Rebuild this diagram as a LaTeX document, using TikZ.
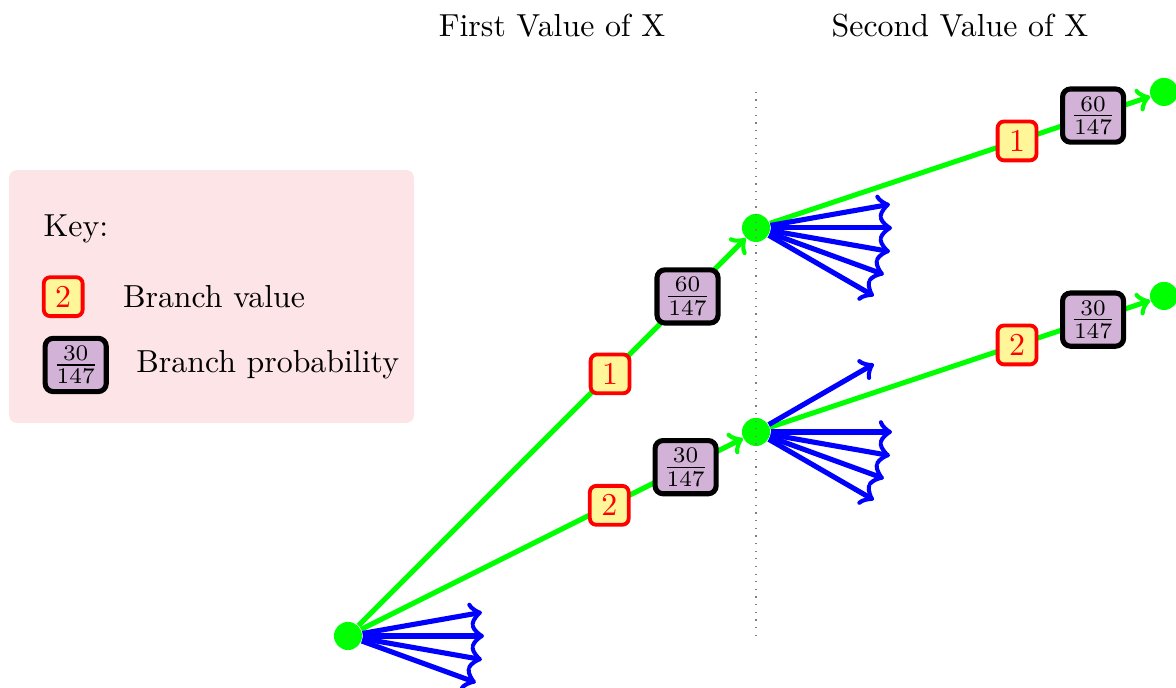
\documentclass[tikz,border=0pt]{standalone}
\usepackage{tikz}
\usetikzlibrary{positioning}

\definecolor{valfill}{RGB}{255,246,154}
\definecolor{probfill}{RGB}{210,178,214}
\definecolor{keyfill}{RGB}{253,229,231}

\begin{document}
\begin{tikzpicture}[
    dot/.style={circle, fill=green, inner sep=0pt, minimum size=0.31cm},
    branch/.style={->, green, ultra thick},
    other/.style={->, blue, ultra thick},
    valbox/.style={draw=red, very thick, rounded corners=2pt, fill=valfill, text=red, minimum size=12.2pt, inner sep=1pt},
    probbox/.style={draw=black, ultra thick, rounded corners=2.5pt, fill=probfill, text=black, inner sep=2.4pt},
  ]

  \useasboundingbox (-3.838,-0.5735) rectangle (9.132,7.014);

  % key
  \node (keybox) [fill=keyfill, rounded corners=2.5pt, minimum width=4.467cm, minimum height=2.79cm] at (-1.505,3.744) {};
  \node (keytitle) at (-3.0,4.49) {Key:};
  \node (keyval) [valbox] at (-3.141,3.742) {2};
  \node (keyvaltxt) [right=0.3cm of keyval] {Branch value};
  \node (keyprob) [probbox] at (-3.003,2.989) {$\frac{30}{147}$};
  \node (keyprobtxt) [right=0.18cm of keyprob] {Branch probability};

  % tree
  \node (root) [dot] at (0,0) {};
  \node (A) [dot, on grid, above right=4.5cm and 4.5cm of root] {};
  \node (B) [dot, on grid, above right=2.25cm and 4.5cm of root] {};
  \node (C) [dot, on grid, above right=1.5cm and 4.5cm of A] {};
  \node (D) [dot, on grid, above right=1.5cm and 4.5cm of B] {};

  \node (first) at (2.25,6.73) {First Value of X};
  \node (second) at (6.75,6.73) {Second Value of X};

  \draw [gray, dotted] (A |- root) -- (A |- C);

  \draw [branch] (root) -- node [valbox, pos=.65] (v1) {1} node [probbox, pos=.85] (p1) {$\frac{60}{147}$} (A);
  \draw [branch] (root) -- node [valbox, pos=.65] (v2) {2} node [probbox, pos=.85] (p2) {$\frac{30}{147}$} (B);
  \draw [branch] (A) -- node [valbox, pos=.65] (v3) {1} node [probbox, pos=.85] (p3) {$\frac{60}{147}$} (C);
  \draw [branch] (B) -- node [valbox, pos=.65] (v4) {2} node [probbox, pos=.85] (p4) {$\frac{30}{147}$} (D);

  % other values
  \foreach \a [count=\i] in {10,0,-10,-20} {
    \path (root) ++(\a:1.5cm) coordinate (root-\i);
    \draw [other] (root) -- (root-\i);
  }
  \foreach \a [count=\i] in {10,0,-10,-20,-30} {
    \path (A) ++(\a:1.5cm) coordinate (A-\i);
    \draw [other] (A) -- (A-\i);
  }
  \foreach \a [count=\i] in {30,0,-10,-20,-30} {
    \path (B) ++(\a:1.5cm) coordinate (B-\i);
    \draw [other] (B) -- (B-\i);
  }

\end{tikzpicture}
\end{document}
